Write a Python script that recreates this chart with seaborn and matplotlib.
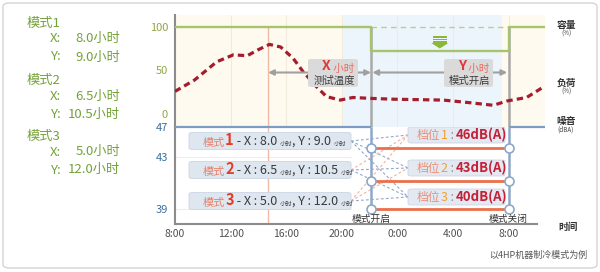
import numpy as np
import matplotlib
matplotlib.use("Agg")
import matplotlib.pyplot as plt
import seaborn as sns
import pandas as pd
from matplotlib.patches import FancyBboxPatch, Polygon, Rectangle

# ---------------- data ----------------
tick_hours = [0, 4, 8, 12, 16, 20, 24]
tick_labels = ["8:00", "12:00", "16:00", "20:00", "0:00", "4:00", "8:00"]
load_hours = [0, 1.4, 3.0, 4.2, 5.2, 6.0, 6.8, 7.6, 8.5, 9.2, 10.2, 10.9,
              11.9, 12.8, 14.0, 15.7, 19.3, 21.2, 22.9, 23.9, 25.3, 26.5]
load_pct = [26, 39, 60, 68, 67, 74, 80, 77, 64, 49, 31, 20,
            16, 19, 18, 17, 16, 13, 10, 15, 19, 31]
cap_hours = [0, 14.1, 14.1, 24.0, 24.0, 26.6]
cap_pct = [100, 100, 72, 72, 100, 100]
cap_ticks = [100, 50, 0]
test_start = 6.7
mode_on = 14.1
mode_off = 24.0
mode_names = ["1", "2", "3"]
mode_x = ["8.0", "6.5", "5.0"]
mode_y = ["9.0", "10.5", "12.0"]
gear_names = ["1", "2", "3"]
gear_db = [46, 43, 40]
noise_tick_labels = ["47", "43", "39"]

# ---------------- layout ----------------
W, H = 600, 272
X0, PXH = 175, 13.9          # pixel of 8:00 and pixels per hour
def hx(px):
    return (px - X0) / PXH
def fx(px):
    return px / W
def fy(py):
    return 1 - py / H

noise_tick_rows = [127, 157, 209]
gear_rows = [148, 181, 209]
gear_box_rows = [135, 168, 197]
mode_box_rows = [141, 170, 201]

sns.set_theme(style="white")
plt.rcParams["font.family"] = ["Noto Sans CJK SC", "DejaVu Sans"]

fig = plt.figure(figsize=(6, 2.72), dpi=100)
fig.patch.set_facecolor("white")

ax1 = fig.add_axes([fx(175), fy(127), 370 / W, 112 / H])
ax2 = fig.add_axes([fx(175), fy(224), 370 / W, 97 / H])
xmax = 370 / PXH
for a in (ax1, ax2):
    a.set_xlim(0, xmax)
    a.set_facecolor("none")
ax1.set_ylim((114 - 127) / 0.87, (114 - 15) / 0.87)
ax2.set_ylim(224, 127)
ylo, yhi = ax1.get_ylim()

# background shading (top panel)
cream, blue = "#fefaef", "#edf5fc"
ax1.axvspan(0, hx(343), color=cream, zorder=0, lw=0)
ax1.axvspan(hx(343), hx(502), color=blue, zorder=0, lw=0)
ax1.axvspan(hx(502), xmax, color=cream, zorder=0, lw=0)
for h in tick_hours[1:]:
    ax1.vlines(h, ylo, yhi, color="#f2ebdc", lw=0.8, zorder=0.5)

# salmon test start line
ax1.vlines(test_start, ylo, 100, color="#f2b9a4", lw=1, zorder=1)
ax2.vlines(test_start, 127, 224, color="#f2b9a4", lw=1, zorder=1)

# capacity & load
ax1.hlines(100, mode_on, mode_off, color="#b9cf8e", lw=1, linestyles=(0, (4, 3)), zorder=2)
ax1.vlines([mode_on, mode_off], ylo, 100, color="#a8a8a8", lw=1.8, zorder=2, clip_on=False)
sns.lineplot(x=cap_hours, y=cap_pct, ax=ax1, color="#a6c46c", lw=1.7,
             estimator=None, sort=False, zorder=3)
sns.lineplot(x=load_hours, y=load_pct, ax=ax1, color="#a51d2d", lw=2.3,
             linestyle=(0, (2, 1.3)), estimator=None, sort=False, zorder=4)

# green down arrow
cx = (mode_on + mode_off) / 2
def vy(py):
    return (114 - py) / 0.87
for py in (36, 38.6, 41.2):
    ax1.add_patch(Rectangle((cx - 0.5, vy(py + 1.6)), 1.0, vy(py) - vy(py + 1.6),
                            color="#8cb83a", lw=0, zorder=5))
ax1.add_patch(Polygon([(cx - 0.62, vy(43)), (cx + 0.62, vy(43)), (cx, vy(48.5))],
                      closed=True, color="#8cb83a", lw=0, zorder=5))

# X / Y arrows and labels
arr_y = vy(72.5)
ax1.annotate("", xy=(test_start, arr_y), xytext=(mode_on, arr_y),
             arrowprops=dict(arrowstyle="<|-|>", color="#a0a0a0", lw=1.5,
                             mutation_scale=8, shrinkA=0, shrinkB=0), zorder=5)
ax1.annotate("", xy=(mode_on + 0.1, arr_y), xytext=(mode_off - 0.1, arr_y),
             arrowprops=dict(arrowstyle="<|-|>", color="#a0a0a0", lw=1.5,
                             mutation_scale=8, shrinkA=0, shrinkB=0), zorder=5)


def rich(ax, x, y, parts, transform=None, zorder=7):
    s, kw = parts[0]
    t = ax.text(x, y, s, va="baseline", ha="left",
                transform=transform if transform is not None else ax.transData,
                zorder=zorder, **kw)
    for s, kw in parts[1:]:
        t = ax.annotate(s, xy=(1, 0), xycoords=t, va="bottom", ha="left",
                        zorder=zorder, annotation_clip=False, **kw)
    return t


for (x_l, x_r, name, sub) in [(308, 358, "X", "测试温度"), (444, 493, "Y", "模式开启")]:
    ax1.add_patch(FancyBboxPatch((hx(x_l), vy(87)), hx(x_r) - hx(x_l), vy(59) - vy(87),
                                 boxstyle="round,pad=0,rounding_size=0.3",
                                 fc="#dadada", ec="none", zorder=6,
                                 mutation_aspect=6))
    xs = x_l + 14
    rich(ax1, hx(xs), vy(70.5), [(name, dict(color="#e0383a", fontsize=10, fontweight="bold")),
                                 (" 小时", dict(color="#ea6a60", fontsize=7.5))])
    ax1.text(hx((x_l + x_r) / 2 + 1), vy(80.5), sub, ha="center", va="center",
             fontsize=7.5, color="#3c3c3c", zorder=7)

# ---------------- lower panel ----------------
nl = "#7d9cc4"
ax2.hlines(127, 0, mode_on, color=nl, lw=1.6, clip_on=False, zorder=3)
ax2.hlines(127, mode_off, xmax, color=nl, lw=1.6, clip_on=False, zorder=3)
ax2.vlines([mode_on, mode_off], 127, gear_rows[-1], color="#8ea8c8", lw=1.8, zorder=3)
for r in noise_tick_rows[1:]:
    ax2.hlines(r, 0, hx(351), color="#eeeeee", lw=0.8, zorder=0.5)

# dashed connectors
for i, mr in enumerate(mode_box_rows):
    for j, gr in enumerate(gear_box_rows):
        c = "#7f9ac4" if j >= i else "#f0a68a"
        ax2.plot([hx(351), hx(408)], [mr, gr], color=c, lw=0.8,
                 ls=(0, (2.5, 2)), alpha=0.85, zorder=2)

# gear lines
for r in gear_rows:
    ax2.hlines(r, mode_on, mode_off, color="#ea6f4a", lw=2, zorder=3)
for h in (mode_on, mode_off):
    ax2.plot([h] * 3, gear_rows, ls="none", marker="o", ms=6.5, mfc="white",
             mec="#8ea8c8", mew=1.2, zorder=6, clip_on=False)

# mode boxes
for i, r in enumerate(mode_box_rows):
    ax2.add_patch(FancyBboxPatch((hx(189), r + 8.5), hx(351) - hx(189), -17,
                                 boxstyle="round,pad=0,rounding_size=0.25",
                                 fc="#dee6f0", ec="#cbd6e4", lw=0.6, zorder=4,
                                 mutation_aspect=-6))
    dk = "#3a3a3a"
    rich(ax2, hx(203), r + 4.5, [
        ("模式", dict(color="#e8806a", fontsize=8)),
        (mode_names[i], dict(color="#e53c26", fontsize=10.5, fontweight="bold")),
        (" - X : " + mode_x[i] + " ", dict(color=dk, fontsize=9)),
        ("小时", dict(color=dk, fontsize=4.5)),
        (", Y : " + mode_y[i] + " ", dict(color=dk, fontsize=9)),
        ("小时", dict(color=dk, fontsize=4.5)),
    ])

# gear boxes
for i, r in enumerate(gear_box_rows):
    ax2.add_patch(FancyBboxPatch((hx(408), r + 8), hx(505) - hx(408), -16,
                                 boxstyle="round,pad=0,rounding_size=0.25",
                                 fc="#e3e8f1", ec="#cdd6e4", lw=0.6, zorder=4,
                                 mutation_aspect=-6))
    rich(ax2, hx(417), r + 4, [
        ("档位", dict(color="#e8907a", fontsize=8.5)),
        (gear_names[i], dict(color="#f0a030", fontsize=9)),
        (" : ", dict(color="#888888", fontsize=8.5)),
        (f"{gear_db[i]}dB(A)", dict(color="#c42038", fontsize=9.5, fontweight="bold")),
    ])

ax2.text(mode_on, 219, "模式开启", ha="center", va="center", fontsize=7,
         color="#333333", zorder=7)
ax2.text(mode_off, 219, "模式关闭", ha="center", va="center", fontsize=7,
         color="#333333", zorder=7)

# ---------------- axes styling ----------------
for a in (ax1, ax2):
    for s in a.spines.values():
        s.set_visible(False)
ax1.spines["left"].set_visible(True)
ax2.spines["left"].set_visible(True)
ax2.spines["bottom"].set_visible(True)
for s in (ax1.spines["left"], ax2.spines["left"], ax2.spines["bottom"]):
    s.set_color("#8c8c8c")
    s.set_linewidth(1.5)
ax2.spines["bottom"].set_bounds(0, hx(537))

ax1.set_xticks([])
ax1.set_yticks(cap_ticks)
ax1.set_yticklabels([str(v) for v in cap_ticks], color="#8fa545", fontsize=8)
ax1.tick_params(axis="y", length=0, pad=5)
ax2.set_yticks(noise_tick_rows)
ax2.set_yticklabels(noise_tick_labels, color="#3b6fa0", fontsize=8)
ax2.set_xticks(tick_hours)
ax2.set_xticklabels(tick_labels, color="#505050", fontsize=7.5)
ax2.tick_params(axis="y", length=0, pad=5)
ax2.tick_params(axis="x", length=0, pad=3.5)
ax1.set_xlabel("")
ax1.set_ylabel("")
ax2.set_xlabel("")
ax2.set_ylabel("")

# ---------------- figure texts ----------------
green = "#74a23a"
for i, top in enumerate([23, 80, 136]):
    fig.text(fx(27), fy(top), "模式" + mode_names[i], color=green, fontsize=9.5,
             va="center", ha="left")
    fig.text(fx(50), fy(top + 16), "X:", color=green, fontsize=9.5, va="center", ha="left")
    fig.text(fx(120), fy(top + 16), mode_x[i] + "小时", color=green, fontsize=9.5,
             va="center", ha="right")
    fig.text(fx(50), fy(top + 34), "Y:", color=green, fontsize=9.5, va="center", ha="left")
    fig.text(fx(120), fy(top + 34), mode_y[i] + "小时", color=green, fontsize=9.5,
             va="center", ha="right")

for (py, big, small) in [(25, "容量", "(%)"), (83, "负荷", "(%)"), (121, "噪音", "(dBA)")]:
    fig.text(fx(566), fy(py), big, ha="center", va="center", fontsize=7,
             color="#333333", fontweight="bold")
    fig.text(fx(566), fy(py + 8.5), small, ha="center", va="center", fontsize=4.5,
             color="#444444")
fig.text(fx(568), fy(227), "时间", ha="center", va="center", fontsize=7,
         color="#333333", fontweight="bold")
fig.text(fx(587), fy(255), "以4HP机器制冷模式为例", ha="right", va="center",
         fontsize=6.5, color="#555555")

fig.patches.append(FancyBboxPatch((fx(3), fy(268)), (597 - 3) / W, (268 - 3) / H,
                                  boxstyle="round,pad=0,rounding_size=0.012",
                                  transform=fig.transFigure, fill=False,
                                  ec="#d4d4d4", lw=1, zorder=0))

fig.savefig("out.png", dpi=100)
